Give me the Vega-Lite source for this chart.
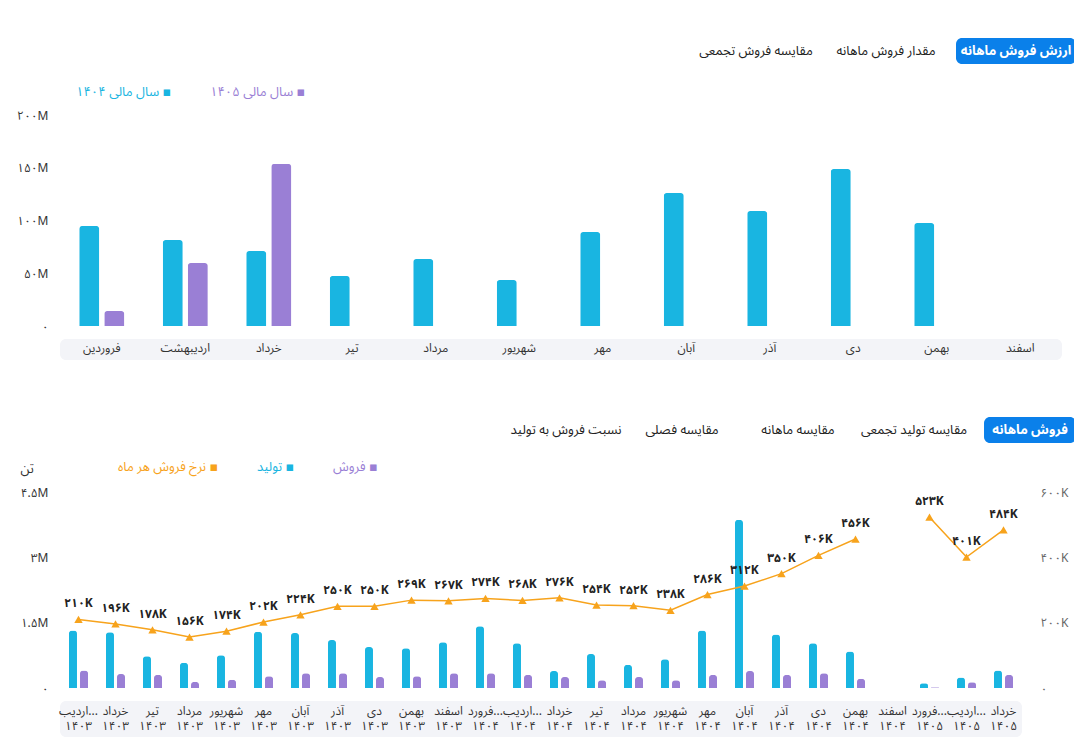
{
  "$schema": "https://vega.github.io/schema/vega-lite/v6.json",
  "background": "white",
  "padding": {"left": 16, "top": 38, "right": 0, "bottom": 0},
  "spacing": 57,
  "resolve": {"scale": {"color": "independent", "xOffset": "independent"}, "legend": {"color": "independent"}},
  "config": {
    "font": "Noto Sans Arabic, DejaVu Sans, sans-serif",
    "view": {"stroke": null},
    "axis": {"labelFontSize": 12, "labelColor": "#333", "domain": false, "ticks": false, "gridColor": "#e2e2e2", "gridDash": [5, 4]},
    "legend": {"labelFontSize": 13, "symbolSize": 0, "symbolStrokeWidth": 0, "symbolOpacity": 0, "labelOffset": 0, "columnPadding": 25, "labelLimit": 300}
  },
  "vconcat": [
    {
      "spacing": 21,
      "resolve": {"legend": {"color": "independent"}},
      "vconcat": [
        {
          "width": 1016,
          "height": 26,
          "data": {"values": [{"t": "ارزش فروش ماهانه"}, {"t": "مقدار فروش ماهانه"}, {"t": "مقایسه فروش تجمعی"}]},
          "encoding": {
            "x": {"field": "t", "type": "nominal", "axis": null,
              "scale": {"domain": ["_1", "_2", "_3", "_4", "مقایسه فروش تجمعی", "مقدار فروش ماهانه", "ارزش فروش ماهانه"], "paddingInner": 0.077, "paddingOuter": 0.446, "align": 1}}
          },
          "layer": [
            {"transform": [{"filter": "datum.t === 'ارزش فروش ماهانه'"}], "mark": {"type": "rect", "cornerRadius": 6, "color": "#0a80ea"}},
            {"transform": [{"filter": "datum.t === 'ارزش فروش ماهانه'"}], "mark": {"type": "text", "fontSize": 13, "fontWeight": "bold", "color": "white"}, "encoding": {"text": {"field": "t"}}},
            {"transform": [{"filter": "datum.t !== 'ارزش فروش ماهانه'"}], "mark": {"type": "text", "fontSize": 13, "color": "#222"}, "encoding": {"text": {"field": "t"}}}
          ]
        },
        {
          "width": 1002,
          "height": 211,
          "data": {"values": [
            {"m": "فروردین", "yr": "سال مالی ۱۴۰۴", "v": 94800000},
            {"m": "فروردین", "yr": "سال مالی ۱۴۰۵", "v": 14200000},
            {"m": "اردیبهشت", "yr": "سال مالی ۱۴۰۴", "v": 81500000},
            {"m": "اردیبهشت", "yr": "سال مالی ۱۴۰۵", "v": 59700000},
            {"m": "خرداد", "yr": "سال مالی ۱۴۰۴", "v": 71000000},
            {"m": "خرداد", "yr": "سال مالی ۱۴۰۵", "v": 153600000},
            {"m": "تیر", "yr": "سال مالی ۱۴۰۴", "v": 47400000},
            {"m": "مرداد", "yr": "سال مالی ۱۴۰۴", "v": 63500000},
            {"m": "شهریور", "yr": "سال مالی ۱۴۰۴", "v": 43600000},
            {"m": "مهر", "yr": "سال مالی ۱۴۰۴", "v": 89000000},
            {"m": "آبان", "yr": "سال مالی ۱۴۰۴", "v": 126000000},
            {"m": "آذر", "yr": "سال مالی ۱۴۰۴", "v": 109000000},
            {"m": "دی", "yr": "سال مالی ۱۴۰۴", "v": 148800000},
            {"m": "بهمن", "yr": "سال مالی ۱۴۰۴", "v": 97600000}
          ]},
          "layer": [
            {
              "data": {"values": [{"band": 1}]},
              "mark": {"type": "rect", "cornerRadius": 6, "color": "#f3f4f8"},
              "encoding": {
                "y": {"datum": -12300000, "type": "quantitative", "scale": {"domain": [0, 200000000], "nice": false}},
                "y2": {"datum": -32200000}
              }
            },
            {
              "mark": {"type": "bar", "cornerRadiusEnd": 3},
              "encoding": {
                "x": {"field": "m", "type": "nominal", "title": null,
                  "scale": {"domain": ["فروردین", "اردیبهشت", "خرداد", "تیر", "مرداد", "شهریور", "مهر", "آبان", "آذر", "دی", "بهمن", "اسفند"], "paddingInner": 0.46, "paddingOuter": 0.23},
                  "axis": {"labelAngle": 0, "labelPadding": 16, "grid": false, "labelColor": "#333", "zindex": 1}},
                "xOffset": {"field": "yr", "type": "nominal", "scale": {"domain": ["سال مالی ۱۴۰۴", "سال مالی ۱۴۰۵"], "paddingInner": 0.2, "paddingOuter": 0}},
                "y": {"field": "v", "type": "quantitative", "title": null,
                  "scale": {"domain": [0, 200000000], "nice": false},
                  "axis": {"values": [0, 50000000, 100000000, 150000000, 200000000], "labelPadding": 12,
                    "labelExpr": "replace(replace(replace(replace(replace(replace(replace(replace(replace(replace(upper(format(datum.value,'~s')),regexp('0','g'),'۰'),regexp('1','g'),'۱'),regexp('2','g'),'۲'),regexp('3','g'),'۳'),regexp('4','g'),'۴'),regexp('5','g'),'۵'),regexp('6','g'),'۶'),regexp('7','g'),'۷'),regexp('8','g'),'۸'),regexp('9','g'),'۹')"}},
                "color": {"field": "yr", "type": "nominal",
                  "scale": {"domain": ["سال مالی ۱۴۰۴", "سال مالی ۱۴۰۵"], "range": ["#19b5e1", "#9a7fd5"]},
                  "legend": {"title": null, "orient": "none", "legendX": 3, "legendY": -30, "direction": "horizontal",
                    "labelExpr": "datum.label + ' ▪'",
                    "encode": {"labels": {"update": {"fill": {"signal": "datum.value === 'سال مالی ۱۴۰۴' ? '#19b5e1' : '#9a7fd5'"}}}}}}
              }
            }
          ]
        }
      ]
    },
    {
      "spacing": 17,
      "resolve": {"legend": {"color": "independent"}},
      "vconcat": [
        {
          "width": 1016,
          "height": 26,
          "data": {"values": [{"t": "فروش ماهانه"}, {"t": "مقایسه تولید تجمعی"}, {"t": "مقایسه ماهانه"}, {"t": "مقایسه فصلی"}, {"t": "نسبت فروش به تولید"}]},
          "encoding": {
            "x": {"field": "t", "type": "nominal", "axis": null,
              "scale": {"domain": ["_1", "_2", "_3", "نسبت فروش به تولید", "مقایسه فصلی", "مقایسه ماهانه", "مقایسه تولید تجمعی", "فروش ماهانه"], "paddingInner": 0.207, "paddingOuter": 0.483, "align": 1}}
          },
          "layer": [
            {"transform": [{"filter": "datum.t === 'فروش ماهانه'"}], "mark": {"type": "rect", "cornerRadius": 6, "color": "#0a80ea"}},
            {"transform": [{"filter": "datum.t === 'فروش ماهانه'"}], "mark": {"type": "text", "fontSize": 13, "fontWeight": "bold", "color": "white"}, "encoding": {"text": {"field": "t"}}},
            {"transform": [{"filter": "datum.t !== 'فروش ماهانه'"}], "mark": {"type": "text", "fontSize": 13, "color": "#222"}, "encoding": {"text": {"field": "t"}}}
          ]
        },
        {
          "width": 962,
          "height": 196,
          "data": {"values": [
            {"m": "اردیبهشت|۱۴۰۳", "p": 1320000, "s": 400000, "r": 210000},
            {"m": "خرداد|۱۴۰۳", "p": 1280000, "s": 320000, "r": 196000},
            {"m": "تیر|۱۴۰۳", "p": 730000, "s": 300000, "r": 178000},
            {"m": "مرداد|۱۴۰۳", "p": 580000, "s": 140000, "r": 156000},
            {"m": "شهریور|۱۴۰۳", "p": 750000, "s": 190000, "r": 174000},
            {"m": "مهر|۱۴۰۳", "p": 1290000, "s": 270000, "r": 202000},
            {"m": "آبان|۱۴۰۳", "p": 1260000, "s": 340000, "r": 224000},
            {"m": "آذر|۱۴۰۳", "p": 1100000, "s": 340000, "r": 250000},
            {"m": "دی|۱۴۰۳", "p": 940000, "s": 250000, "r": 250000},
            {"m": "بهمن|۱۴۰۳", "p": 910000, "s": 270000, "r": 269000},
            {"m": "اسفند|۱۴۰۳", "p": 1050000, "s": 340000, "r": 267000},
            {"m": "فروردین|۱۴۰۴", "p": 1420000, "s": 340000, "r": 274000},
            {"m": "اردیبهشت|۱۴۰۴", "p": 1030000, "s": 300000, "r": 268000},
            {"m": "خرداد|۱۴۰۴", "p": 390000, "s": 250000, "r": 276000},
            {"m": "تیر|۱۴۰۴", "p": 780000, "s": 180000, "r": 254000},
            {"m": "مرداد|۱۴۰۴", "p": 530000, "s": 250000, "r": 252000},
            {"m": "شهریور|۱۴۰۴", "p": 660000, "s": 180000, "r": 238000},
            {"m": "مهر|۱۴۰۴", "p": 1320000, "s": 300000, "r": 286000},
            {"m": "آبان|۱۴۰۴", "p": 3860000, "s": 390000, "r": 312000},
            {"m": "آذر|۱۴۰۴", "p": 1230000, "s": 300000, "r": 350000},
            {"m": "دی|۱۴۰۴", "p": 1030000, "s": 340000, "r": 406000},
            {"m": "بهمن|۱۴۰۴", "p": 840000, "s": 210000, "r": 456000},
            {"m": "اسفند|۱۴۰۴", "p": null, "s": null, "r": null},
            {"m": "فروردین|۱۴۰۵", "p": 110000, "s": 20000, "r": 523000},
            {"m": "اردیبهشت|۱۴۰۵", "p": 240000, "s": 130000, "r": 401000},
            {"m": "خرداد|۱۴۰۵", "p": 400000, "s": 300000, "r": 484000}
          ]},
          "encoding": {
            "x": {"field": "m", "type": "nominal", "title": null,
              "scale": {"domain": ["اردیبهشت|۱۴۰۳", "خرداد|۱۴۰۳", "تیر|۱۴۰۳", "مرداد|۱۴۰۳", "شهریور|۱۴۰۳", "مهر|۱۴۰۳", "آبان|۱۴۰۳", "آذر|۱۴۰۳", "دی|۱۴۰۳", "بهمن|۱۴۰۳", "اسفند|۱۴۰۳", "فروردین|۱۴۰۴", "اردیبهشت|۱۴۰۴", "خرداد|۱۴۰۴", "تیر|۱۴۰۴", "مرداد|۱۴۰۴", "شهریور|۱۴۰۴", "مهر|۱۴۰۴", "آبان|۱۴۰۴", "آذر|۱۴۰۴", "دی|۱۴۰۴", "بهمن|۱۴۰۴", "اسفند|۱۴۰۴", "فروردین|۱۴۰۵", "اردیبهشت|۱۴۰۵", "خرداد|۱۴۰۵"], "paddingInner": 0.485, "paddingOuter": 0.2425},
              "axis": {"labelAngle": 0, "labelPadding": 17, "labelLineHeight": 15, "grid": false, "labelColor": "#333", "zindex": 1,
                "labelExpr": "[length(split(datum.value,'|')[0]) > 6 ? substring(split(datum.value,'|')[0],0,5) + '...' : split(datum.value,'|')[0], split(datum.value,'|')[1]]"}}
          },
          "layer": [
            {
              "layer": [
                {
                  "data": {"values": [{"band": 1}]},
                  "mark": {"type": "rect", "cornerRadius": 6, "color": "#f3f4f8"},
                  "encoding": {
                    "x": null,
                    "y": {"datum": -300000, "type": "quantitative", "scale": {"domain": [0, 4500000], "nice": false}},
                    "y2": {"datum": -1125000}
                  }
                },
                {
                  "transform": [{"fold": ["p", "s"], "as": ["k", "v"]}],
                  "mark": {"type": "bar", "cornerRadiusEnd": 3},
                  "encoding": {
                    "xOffset": {"field": "k", "type": "nominal", "scale": {"domain": ["p", "s"], "paddingInner": 0.273, "paddingOuter": 0}},
                    "y": {"field": "v", "type": "quantitative",
                      "scale": {"domain": [0, 4500000], "nice": false},
                      "axis": {"values": [0, 1500000, 3000000, 4500000], "labelPadding": 12,
                        "title": "تن", "titleAngle": 0, "titleAlign": "left", "titleBaseline": "bottom", "titleAnchor": "end", "titleX": -40, "titleY": -17, "titleFontWeight": "normal", "titleFontSize": 13, "titleColor": "#333",
                        "labelExpr": "replace(replace(replace(replace(replace(replace(replace(replace(replace(replace(upper(format(datum.value,'~s')),regexp('0','g'),'۰'),regexp('1','g'),'۱'),regexp('2','g'),'۲'),regexp('3','g'),'۳'),regexp('4','g'),'۴'),regexp('5','g'),'۵'),regexp('6','g'),'۶'),regexp('7','g'),'۷'),regexp('8','g'),'۸'),regexp('9','g'),'۹')"}},
                    "color": {"field": "k", "type": "nominal",
                      "scale": {"domain": ["r", "p", "s"], "range": ["#f7a31c", "#19b5e1", "#9a7fd5"]},
                      "legend": {"title": null, "orient": "none", "legendX": 45, "legendY": -32, "direction": "horizontal",
                        "labelExpr": "(datum.value === 'r' ? 'نرخ فروش هر ماه' : datum.value === 'p' ? 'تولید' : 'فروش') + ' ▪'",
                        "encode": {"labels": {"update": {"fill": {"signal": "datum.value === 'r' ? '#f7a31c' : datum.value === 'p' ? '#19b5e1' : '#9a7fd5'"}}}}}}
                  }
                }
              ]
            },
            {
              "encoding": {
                "y": {"field": "r", "type": "quantitative", "title": null,
                  "scale": {"domain": [0, 600000], "nice": false},
                  "axis": {"orient": "right", "grid": false, "values": [0, 200000, 400000, 600000], "labelPadding": 18, "labelColor": "#666",
                    "labelExpr": "replace(replace(replace(replace(replace(replace(replace(replace(replace(replace(upper(format(datum.value,'~s')),regexp('0','g'),'۰'),regexp('1','g'),'۱'),regexp('2','g'),'۲'),regexp('3','g'),'۳'),regexp('4','g'),'۴'),regexp('5','g'),'۵'),regexp('6','g'),'۶'),regexp('7','g'),'۷'),regexp('8','g'),'۸'),regexp('9','g'),'۹')"}}
              },
              "layer": [
                {"mark": {"type": "line", "color": "#f7a31c", "strokeWidth": 1.5}},
                {"mark": {"type": "point", "shape": "triangle-up", "filled": true, "size": 70, "color": "#f7a31c", "opacity": 1}},
                {
                  "transform": [
                    {"filter": "datum.r != null"},
                    {"calculate": "replace(replace(replace(replace(replace(replace(replace(replace(replace(replace(upper(format(datum.r,'~s')),regexp('0','g'),'۰'),regexp('1','g'),'۱'),regexp('2','g'),'۲'),regexp('3','g'),'۳'),regexp('4','g'),'۴'),regexp('5','g'),'۵'),regexp('6','g'),'۶'),regexp('7','g'),'۷'),regexp('8','g'),'۸'),regexp('9','g'),'۹')", "as": "rl"}
                  ],
                  "mark": {"type": "text", "dy": -16, "fontSize": 12, "fontWeight": "bold", "color": "#222"},
                  "encoding": {"text": {"field": "rl", "type": "nominal"}}
                }
              ]
            }
          ],
          "resolve": {"scale": {"y": "independent"}}
        }
      ]
    }
  ]
}
